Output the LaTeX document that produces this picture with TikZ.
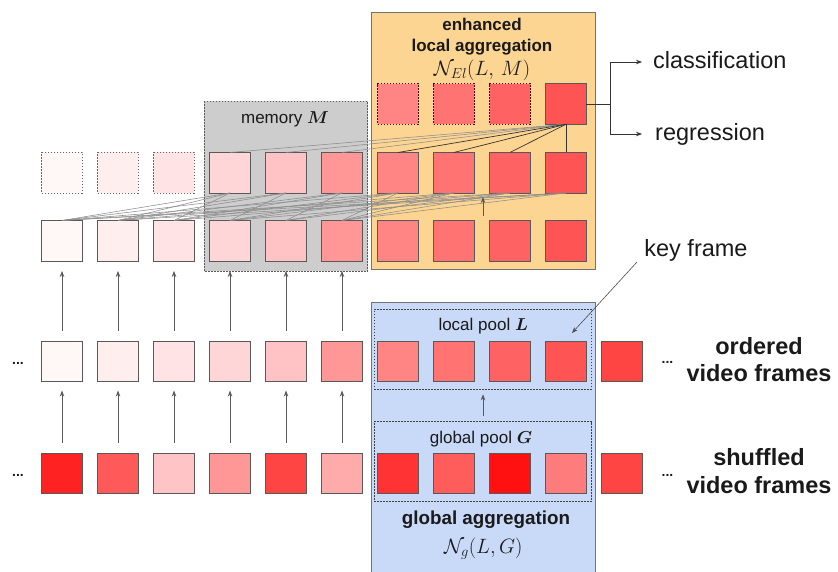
\documentclass[tikz,border=0pt]{standalone}
\usepackage{fontspec}
\setmainfont{Liberation Sans}
\usepackage{bm}
\usetikzlibrary{arrows.meta}
\definecolor{c0}{HTML}{FFF8F6}
\definecolor{c1}{HTML}{FFEEEE}
\definecolor{c2}{HTML}{FFE3E5}
\definecolor{c3}{HTML}{FFD6D8}
\definecolor{c4}{HTML}{FFC3C5}
\definecolor{c5}{HTML}{FF9797}
\definecolor{c6}{HTML}{FF8585}
\definecolor{c7}{HTML}{FF7373}
\definecolor{c8}{HTML}{FF6262}
\definecolor{c9}{HTML}{FF5454}
\definecolor{c10}{HTML}{FF4444}
\definecolor{s0}{HTML}{FF2222}
\definecolor{s1}{HTML}{FF5A5A}
\definecolor{s2}{HTML}{FFC4C6}
\definecolor{s3}{HTML}{FF9797}
\definecolor{s4}{HTML}{FF4444}
\definecolor{s5}{HTML}{FFABAB}
\definecolor{s6}{HTML}{FF3333}
\definecolor{s7}{HTML}{FF5C5C}
\definecolor{s8}{HTML}{FF1111}
\definecolor{s9}{HTML}{FF7C7C}
\definecolor{s10}{HTML}{FF4444}
\definecolor{orng}{HTML}{FDD592}
\definecolor{mgray}{HTML}{CDCDCD}
\definecolor{blu}{HTML}{C9DAF8}
\definecolor{txt}{HTML}{1A1A1A}
\tikzset{
  x=1pt, y=-1pt,
  sq/.style={draw=black!65, line width=0.9pt, minimum size=40.5pt, inner sep=0pt, outer sep=0pt},
  dsq/.style={sq, draw=black!60, dash pattern=on 1.6pt off 1.4pt},
  tsq/.style={sq, draw=red!35!black, dash pattern=on 1.6pt off 1.4pt},
  gline/.style={draw=black!45, line width=0.55pt},
  dline/.style={draw=black!80, line width=0.7pt},
  arr/.style={draw=black!65, line width=0.8pt, -{Stealth[length=6pt,width=4.5pt,fill=black]}},
  big/.style={font=\fontsize{23.5}{26}\selectfont, text=txt, inner sep=0pt, anchor=base},
  mid/.style={font=\fontsize{17}{20}\selectfont, text=txt, inner sep=0pt, anchor=base},
  mth/.style={font=\fontsize{20}{22}\selectfont, text=txt, inner sep=0pt, anchor=base},
  pool/.style={draw=black!75, line width=0.6pt, dash pattern=on 1.5pt off 1.5pt, inner sep=0pt, minimum width=217.4pt, minimum height=79.7pt},
  dots/.style={font=\bfseries\fontsize{14}{16}\selectfont, text=txt, inner sep=0pt, anchor=base}
}
\begin{document}
\begin{tikzpicture}
\useasboundingbox (0,0) rectangle (838,571);
% background boxes
\draw[draw=black!55, line width=0.8pt, fill=orng] (371,12.3) rectangle (595.5,269.5);
\draw[draw=black!65, line width=0.7pt, fill=mgray, dash pattern=on 1.5pt off 1.5pt] (204,101) rectangle (367.5,271);
\draw[draw=black!55, line width=0.8pt, fill=blu] (371,302) rectangle (595.5,572);
\node[pool] (lp) at (483,349.2) {};
\node[pool] (gp) at (483,461.4) {};
% titles
\node[mid, font=\bfseries\fontsize{17}{20}\selectfont] (t1) at (482,30.5) {enhanced};
\node[mid, font=\bfseries\fontsize{17}{20}\selectfont] (t2) at (482,51) {local aggregation};
\node[mth] (t3) at (482,75) {$\mathcal{N}_{El}(L,\,M)$};
\node[mid] (mm) at (285,123.3) {memory $\bm{M}$};
\node[mid] (lpl) at (483.3,330.7) {local pool $\bm{L}$};
\node[mid] (gpl) at (481,443.3) {global pool $\bm{G}$};
\node[mid, font=\bfseries\fontsize{18.8}{22}\selectfont] (ga) at (486,524) {global aggregation};
\node[mth] (ng) at (483.3,553.3) {$\mathcal{N}_{g}(L,G)$};
% squares
\foreach \i in {0,...,10} {
  \node[sq, fill=c\i] (o\i) at (62+56*\i,361.3) {};
  \node[sq, fill=s\i] (s\i) at (62+56*\i,473.3) {};
}
\foreach \i in {0,...,9} {
  \node[sq, fill=c\i] (b\i) at (62+56*\i,240.7) {};
}
\foreach \i in {0,1,2} {
  \node[dsq, fill=c\i] (a\i) at (62+56*\i,172.7) {};
}
\foreach \i in {3,...,9} {
  \node[sq, fill=c\i] (a\i) at (62+56*\i,172.7) {};
}
\foreach \i in {6,7,8} {
  \node[tsq, fill=c\i] (t\i) at (62+56*\i,104) {};
}
\node[sq, fill=c9] (t9) at (566,104) {};
% connections row1 -> row2
\foreach \j/\i in {3/0,3/1,3/2,4/0,4/1,4/3,5/1,5/2,5/4,6/0,6/2,6/3,6/5,7/1,7/3,7/4,7/5,8/0,8/2,8/4,8/5,9/0,9/1,9/3,9/5}
  \draw[gline] (a\j.south) -- (b\i.north);
% top -> row1
\foreach \j in {3,4,5}
  \draw[gline] (t9.south) -- (a\j.north);
\foreach \j in {6,7,8,9}
  \draw[dline] (t9.south) -- (a\j.north);
% vertical arrows
\foreach \i in {0,...,5} {
  \draw[arr, shorten <=10pt, shorten >=9pt] (s\i.north) -- (o\i.south);
  \draw[arr, shorten <=10pt, shorten >=10pt] (o\i.north) -- (b\i.south);
}
\draw[arr, shorten <=5pt, shorten >=5pt] (gp.north) -- (lp.south);
\coordinate (oa1) at (483,216);
\coordinate (oa2) at (483,197);
\draw[arr] (oa1) -- (oa2);
% outputs
\coordinate (br) at (610,104);
\coordinate (clA) at (642,62);
\coordinate (rgA) at (642,134);
\draw[dline] (t9.east) -- (br);
\draw[arr, draw=black!80] (br) |- (clA);
\draw[arr, draw=black!80] (br) |- (rgA);
\node[big, anchor=base west] (cl) at (653,68.5) {classification};
\node[big, anchor=base west] (rg) at (655,140) {regression};
% key frame
\node[big] (kf) at (696,256.7) {key frame};
\coordinate (kfa) at (637,262);
\coordinate (kfb) at (572,333);
\draw[draw=black!70, line width=0.6pt, -{Stealth[length=6pt,width=4.5pt]}] (kfa) -- (kfb);
% side labels
\node[big, font=\bfseries\fontsize{23.5}{26}\selectfont] (od1) at (759,354) {ordered};
\node[big, font=\bfseries\fontsize{23.5}{26}\selectfont] (od2) at (759,381.7) {video frames};
\node[big, font=\bfseries\fontsize{23.5}{26}\selectfont] (sh1) at (759,465) {shuffled};
\node[big, font=\bfseries\fontsize{23.5}{26}\selectfont] (sh2) at (759,493.3) {video frames};
\node[dots] (dl1) at (18,364.5) {...};
\node[dots] (dl2) at (18,476.5) {...};
\node[dots] (dr1) at (667.5,363.5) {...};
\node[dots] (dr2) at (667.5,476) {...};
\end{tikzpicture}
\end{document}
